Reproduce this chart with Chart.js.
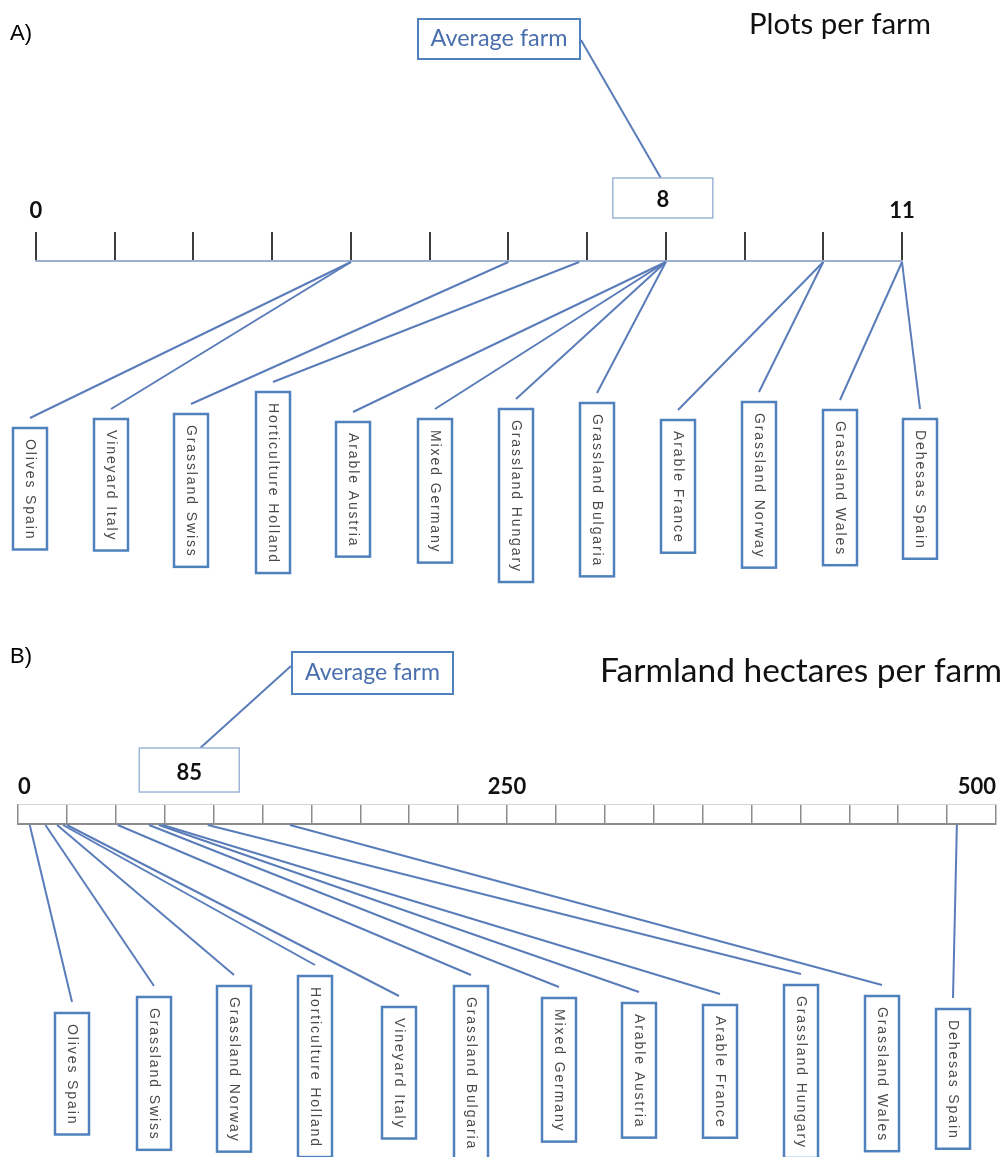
<!DOCTYPE html>
<html><head><meta charset="utf-8">
<script src="https://cdn.jsdelivr.net/npm/chart.js@4.4.0/dist/chart.umd.min.js"></script>
<style>
html,body{margin:0;padding:0;background:#fff;width:1007px;height:1157px;overflow:hidden}
#wa{position:absolute;left:0;top:0;width:1007px;height:600px}
#wb{position:absolute;left:0;top:600px;width:1007px;height:557px}
canvas{display:block}
</style></head><body>
<div id="wa"><canvas id="ca" width="1007" height="600"></canvas></div>
<div id="wb"><canvas id="cb" width="1007" height="557"></canvas></div>
<script>
// ---------- DATA ----------
const categoriesA = ['Olives Spain','Vineyard Italy','Grassland Swiss','Horticulture Holland','Arable Austria','Mixed Germany','Grassland Hungary','Grassland Bulgaria','Arable France','Grassland Norway','Grassland Wales','Dehesas Spain'];
const plotsPerFarm = [4, 4, 6, 6.9, 8, 8, 8, 8, 10, 10, 11, 11];
const averagePlots = 8;
const tickLabelsA = {0: '0', 11: '11'};

const categoriesB = ['Olives Spain','Grassland Swiss','Grassland Norway','Horticulture Holland','Vineyard Italy','Grassland Bulgaria','Mixed Germany','Arable Austria','Arable France','Grassland Hungary','Grassland Wales','Dehesas Spain'];
const hectaresPerFarm = [6, 14, 20, 23, 25, 51, 67, 72, 74, 97, 139, 480];
const averageHectares = 85;
const tickLabelsB = {0: '0', 250: '250', 500: '500'};

// ---------- LAYOUT (positions only) ----------
const layoutA = {
  letter: 'A)', letterX: 10, letterY: 40,
  title: 'Plots per farm', titleX: 749, titleY: 34, titleW: 182,
  avgBox: {x: 418, y: 19, w: 162, h: 40, textY: 46, textW: 137},
  connFrom: [581, 40], connDx: -5,
  valBox: {dx: -3, y: 178, w: 100, h: 40, textY: 207},
  axisY: 260,
  boxCenters: [30, 111, 191, 273, 353, 435, 516, 597, 678, 759, 840, 920],
  boxTops: [428, 419, 414, 392, 422, 419, 409, 403, 420, 402, 410, 419],
  lineGap: 10
};
const layoutB = {
  letter: 'B)', letterX: 10, letterY: 63,
  title: 'Farmland hectares per farm', titleX: 600, titleY: 82, titleW: 402,
  avgBox: {x: 292, y: 52, w: 161, h: 42, textY: 80, textW: 135},
  connFrom: [291, 66], connDx: 16,
  valBox: {dx: 5, y: 148, w: 100, h: 44, textY: 180},
  axisY: 223,
  boxCenters: [72, 154, 234, 315, 399, 471, 559, 639, 720, 801, 882, 953],
  boxTops: [413, 397, 386, 376, 407, 386, 398, 403, 405, 385, 396, 409],
  lineGap: 11,
  topRule: true
};

const BLUE = '#4f81bd';
const LINE = '#5a7dba';

function fitText(ctx, text, font, weight, targetW) {
  ctx.font = weight + ' 100px ' + font;
  const w = ctx.measureText(text).width;
  const size = 100 * targetW / w;
  ctx.font = weight + ' ' + size.toFixed(2) + 'px ' + font;
}

function drawRotatedLabel(ctx, text, cx, top) {
  ctx.font = '14px "Liberation Sans", Arial, sans-serif';
  const sp = 1.9;
  const chars = [...text];
  const widths = chars.map(c => ctx.measureText(c).width);
  const w = widths.reduce((a, b) => a + b, 0) + sp * (chars.length - 1);
  const pad = 11, bw = 34, bh = w + 2 * pad;
  ctx.fillStyle = '#fff';
  ctx.fillRect(cx - bw / 2, top, bw, bh);
  ctx.strokeStyle = BLUE; ctx.lineWidth = 2.5;
  ctx.strokeRect(cx - bw / 2, top, bw, bh);
  ctx.save();
  ctx.translate(cx, top + pad);
  ctx.rotate(Math.PI / 2);
  ctx.fillStyle = '#4a4a4a';
  ctx.textBaseline = 'middle';
  ctx.textAlign = 'left';
  let x = 0;
  chars.forEach((c, i) => { ctx.fillText(c, x, 0.5); x += widths[i] + sp; });
  ctx.restore();
}

function makePlugin(L, cats, vals, avg, avgLabel) {
  return {
    id: 'diagram',
    afterDraw(chart) {
      const ctx = chart.ctx;
      const xs = chart.scales.x;
      const axisY = chart.chartArea.top;
      ctx.save();
      // panel letter
      ctx.fillStyle = '#000';
      ctx.font = '22px "Liberation Sans", Arial, sans-serif';
      ctx.textAlign = 'left'; ctx.textBaseline = 'alphabetic';
      ctx.fillText(L.letter, L.letterX, L.letterY);
      // title
      fitText(ctx, L.title, 'Lato, "Open Sans", sans-serif', 'normal', L.titleW);
      ctx.fillStyle = '#111';
      ctx.fillText(L.title, L.titleX, L.titleY);
      // faint top rule of the axis ladder
      if (L.topRule) {
        const tl = chart.options.scales.x.grid.tickLength;
        ctx.strokeStyle = '#d4d4d4'; ctx.lineWidth = 1;
        ctx.beginPath();
        ctx.moveTo(xs.getPixelForValue(xs.min), axisY - tl + 0.5);
        ctx.lineTo(xs.getPixelForValue(xs.max), axisY - tl + 0.5);
        ctx.stroke();
      }
      // average farm label box + connector
      const ab = L.avgBox;
      const avgPx = xs.getPixelForValue(avg);
      ctx.strokeStyle = LINE; ctx.lineWidth = 2;
      ctx.beginPath();
      ctx.moveTo(L.connFrom[0], L.connFrom[1]);
      ctx.lineTo(avgPx + L.connDx, L.valBox.y);
      ctx.stroke();
      ctx.fillStyle = '#fff';
      ctx.fillRect(ab.x, ab.y, ab.w, ab.h);
      ctx.strokeStyle = BLUE; ctx.lineWidth = 2;
      ctx.strokeRect(ab.x, ab.y, ab.w, ab.h);
      fitText(ctx, 'Average farm', 'Lato, "Open Sans", sans-serif', 'normal', ab.textW);
      ctx.fillStyle = '#4a6fae'; ctx.textAlign = 'center';
      ctx.fillText('Average farm', ab.x + ab.w / 2, ab.textY);
      // average value box
      const vb = L.valBox;
      const vcx = avgPx + vb.dx;
      ctx.fillStyle = '#fff';
      ctx.fillRect(vcx - vb.w / 2, vb.y, vb.w, vb.h);
      ctx.strokeStyle = '#9fb6d8'; ctx.lineWidth = 1.5;
      ctx.strokeRect(vcx - vb.w / 2, vb.y, vb.w, vb.h);
      ctx.fillStyle = '#111';
      ctx.font = 'bold 22px Lato, "Open Sans", sans-serif';
      ctx.textAlign = 'center';
      ctx.fillText(avgLabel, vcx, vb.textY);
      // leader lines
      ctx.strokeStyle = LINE; ctx.lineWidth = 2;
      vals.forEach((v, i) => {
        ctx.beginPath();
        ctx.moveTo(xs.getPixelForValue(v), axisY + 1);
        ctx.lineTo(L.boxCenters[i], L.boxTops[i] - L.lineGap);
        ctx.stroke();
      });
      // category boxes
      cats.forEach((c, i) => drawRotatedLabel(ctx, c, L.boxCenters[i], L.boxTops[i]));
      ctx.restore();
    }
  };
}

function makeChart(id, cats, vals, avg, tickLabels, maxV, step, L, axisStyle) {
  const labelLineH = axisStyle.fontSize * 1.2;
  const topPad = L.axisY - (axisStyle.tickLength + axisStyle.padding + labelLineH) - axisStyle.corr;
  return new Chart(document.getElementById(id), {
    type: 'scatter',
    data: {
      datasets: [{
        label: 'values',
        data: vals.map(v => ({x: v, y: 0})),
        pointRadius: 0,
        showLine: false
      }]
    },
    options: {
      responsive: false,
      animation: false,
      events: [],
      layout: {padding: {top: topPad, left: axisStyle.left, right: axisStyle.right, bottom: 0}},
      plugins: {legend: {display: false}, tooltip: {enabled: false}},
      scales: {
        x: {
          type: 'linear',
          position: 'top',
          min: 0, max: maxV,
          grid: {drawOnChartArea: false, drawTicks: true, tickLength: axisStyle.tickLength,
                 color: axisStyle.tickColor, lineWidth: axisStyle.tickWidth},
          border: {display: true, color: axisStyle.borderColor, width: 2},
          ticks: {
            stepSize: step, autoSkip: false, maxRotation: 0, minRotation: 0,
            align: axisStyle.align, padding: axisStyle.padding,
            color: '#111',
            font: {family: 'Lato, "Open Sans", sans-serif', size: axisStyle.fontSize, weight: 'bold'},
            callback: (v) => (tickLabels[v] !== undefined ? tickLabels[v] : '')
          }
        },
        y: {display: false, min: 0, max: 1}
      }
    },
    plugins: [makePlugin(L, cats, vals, avg, String(avg))]
  });
}

makeChart('ca', categoriesA, plotsPerFarm, averagePlots, tickLabelsA, 11, 1, layoutA,
  {tickLength: 29, padding: 8, fontSize: 22, left: 36, right: 105, align: 'center', corr: 7,
   tickColor: '#3c3c3c', tickWidth: 2, borderColor: '#9db0cc'});
makeChart('cb', categoriesB, hectaresPerFarm, averageHectares, tickLabelsB, 500, 25, layoutB,
  {tickLength: 20, padding: 4, fontSize: 22, left: 18, right: 11, align: 'inner', corr: 3,
   tickColor: '#8c8c8c', tickWidth: 1.5, borderColor: '#8c8c8c'});
</script>
</body></html>
